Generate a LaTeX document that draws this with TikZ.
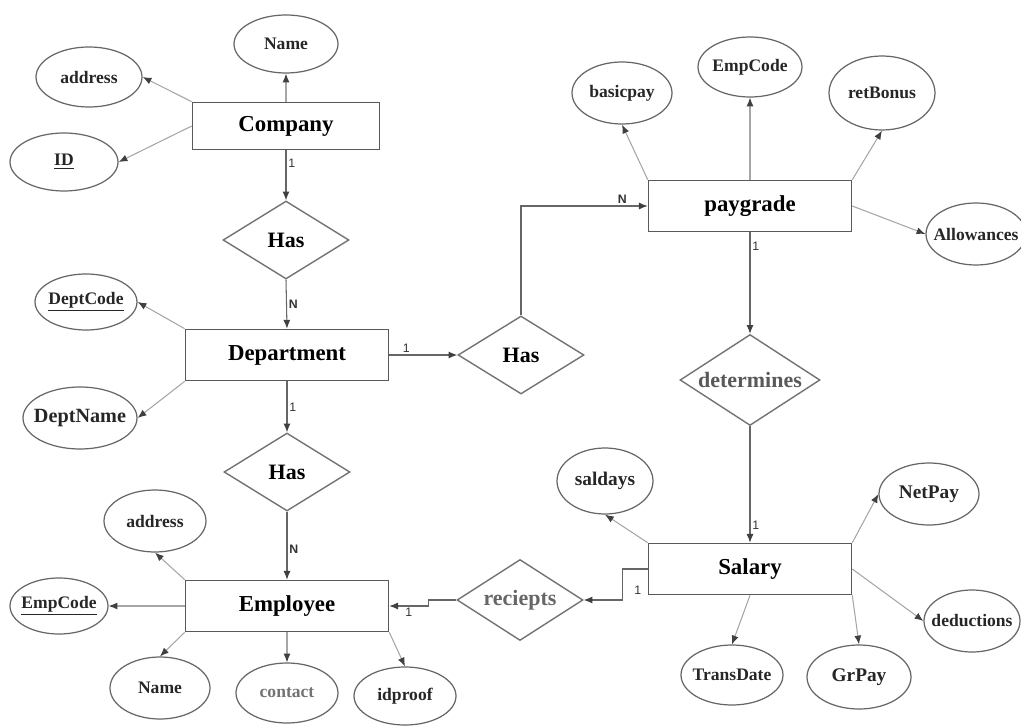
\documentclass[tikz,border=0pt]{standalone}
\usepackage{fontspec}
\setmainfont{Liberation Serif}
\newfontfamily\cardfont{Liberation Sans}
\usetikzlibrary{shapes.geometric,arrows.meta}
\newcommand{\attrtext}[1]{\makebox[0pt]{#1}}

\begin{document}
\begin{tikzpicture}[x=0.02cm,y=-0.02cm,
    entity/.style={draw=black!65,line width=0.9pt,fill=white,minimum width=4.06cm,minimum height=1.02cm,font=\fontsize{13}{15}\selectfont\bfseries},
    rel/.style={diamond,aspect=1.6,draw=black!55,line width=0.8pt,inner sep=0pt,minimum width=2.52cm,minimum height=1.56cm,font=\fontsize{12.5}{14}\selectfont\bfseries},
    attr/.style 2 args={ellipse,draw=black!60,line width=0.7pt,inner sep=0pt,minimum width=#1*0.02cm,minimum height=#2*0.02cm,font=\fontsize{10}{12}\selectfont\bfseries,text=black!85},
    link/.style={draw=black!60,line width=0.6pt,-{Latex[length=5pt,width=4pt,color=black!75]}},
    attrlink/.style={draw=black!35,line width=0.6pt,-{Latex[length=5pt,width=4pt,color=black!75]}},
    card/.style={font=\cardfont\fontsize{7}{8}\selectfont,inner sep=1pt,text=black!80}]
  \useasboundingbox (0,0) rectangle (1021,726);

  % entities
  \node[entity,minimum width=3.74cm,minimum height=0.94cm] (company) at (286,126) {Company};
  \node[entity] (dept) at (287,355) {Department};
  \node[entity] (emp) at (287,606) {Employee};
  \node[entity] (pay) at (750,206) {paygrade};
  \node[entity] (sal) at (750,569) {Salary};

  % relationships
  \node[rel] (has1) at (286,240) {Has};
  \node[rel] (has2) at (521,355) {Has};
  \node[rel] (has3) at (287,472) {Has};
  \node[rel,minimum width=2.8cm,minimum height=1.82cm,text=black!65] (det) at (750,380) {determines};
  \node[rel,minimum height=1.62cm,text=black!60] (rcpt) at (520,600) {reciepts};

  % attributes of Company
  \node[attr={104}{58}] (cname) at (286,44) {\attrtext{Name}};
  \node[attr={106}{60}] (caddr) at (89,77) {\attrtext{address}};
  \node[attr={108}{58}] (cid) at (64,162) {\attrtext{\underline{ID}}};
  % attributes of Department
  \node[attr={102}{56}] (dcode) at (86,302) {\attrtext{\underline{DeptCode}}};
  \node[attr={114}{62},font=\fontsize{11.5}{13}\selectfont\bfseries] (dname) at (80,418) {\attrtext{DeptName}};
  % attributes of paygrade
  \node[attr={100}{62}] (bpay) at (622,93) {\attrtext{basicpay}};
  \node[attr={104}{60}] (pcode) at (750,67) {\attrtext{EmpCode}};
  \node[attr={106}{74}] (rbonus) at (882,93) {\attrtext{retBonus}};
  \node[attr={100}{62}] (allow) at (976,234) {\attrtext{Allowances}};
  % attributes of Salary
  \node[attr={96}{66},font=\fontsize{11}{13}\selectfont\bfseries] (sdays) at (605,481) {\attrtext{saldays}};
  \node[attr={100}{62},font=\fontsize{11}{13}\selectfont\bfseries] (npay) at (929,494) {\attrtext{NetPay}};
  \node[attr={96}{62}] (deduc) at (972,621) {\attrtext{deductions}};
  \node[attr={104}{64},font=\fontsize{11}{13}\selectfont\bfseries] (grpay) at (859,677) {\attrtext{GrPay}};
  \node[attr={102}{60}] (tdate) at (732,675) {\attrtext{TransDate}};
  % attributes of Employee
  \node[attr={102}{62}] (eaddr) at (155,521) {\attrtext{address}};
  \node[attr={98}{56}] (ecode) at (59,606) {\attrtext{\underline{EmpCode}}};
  \node[attr={100}{62}] (ename) at (160,688) {\attrtext{Name}};
  \node[attr={102}{60},text=black!55] (econt) at (287,693) {\attrtext{contact}};
  \node[attr={102}{58}] (eproof) at (405,696) {\attrtext{idproof}};

  % relationship links
  \draw[link] (company.south) -- (has1.north) node[card,right,pos=0.25]{1};
  \draw[link] (has1.south) -- (dept.north) node[card,right,pos=0.5]{\textbf{N}};
  \draw[link] (dept.east) -- (has2.west) node[card,above,pos=0.25]{1};
  \draw[link] (dept.south) -- (has3.north) node[card,right,pos=0.5]{1};
  \draw[link] (has3.south) -- (emp.north) node[card,right,pos=0.55]{\textbf{N}};
  \draw[link] (has2.north) |- (pay.west) node[card,above,pos=0.9]{\textbf{N}};
  \draw[link] (pay.south) -- (det.north) node[card,right,pos=0.14]{1};
  \draw[link] (det.south) -- (sal.north) node[card,right,pos=0.85]{1};
  \draw[link] (sal.west) -- node[card,below=0.3cm,pos=0.4]{1} ++(-25,0) |- (rcpt.east);
  \draw[link] (rcpt.west) -- ++(-28,0) |- (emp.east) node[card,below,pos=0.75]{1};

  % attribute links
  \draw[attrlink] (company.north) -- (cname.south);
  \draw[attrlink] (company.north west) -- (caddr.east);
  \draw[attrlink] (company.west) -- (cid.east);
  \draw[attrlink] (dept.north west) -- (dcode.east);
  \draw[attrlink] (dept.south west) -- (dname.east);
  \draw[attrlink] (pay.north west) -- (bpay.south);
  \draw[attrlink] (pay.north) -- (pcode.south);
  \draw[attrlink] (pay.north east) -- (rbonus.south);
  \draw[attrlink] (pay.east) -- (allow.west);
  \draw[attrlink] (sal.north west) -- (sdays.south);
  \draw[attrlink] (sal.north east) -- (npay.west);
  \draw[attrlink] (sal.east) -- (deduc.west);
  \draw[attrlink] (sal.south) -- (tdate.north);
  \draw[attrlink] (sal.south east) -- (grpay.north);
  \draw[attrlink] (emp.north west) -- (eaddr.south);
  \draw[attrlink] (emp.west) -- (ecode.east);
  \draw[attrlink] (emp.south west) -- (ename.north);
  \draw[attrlink] (emp.south) -- (econt.north);
  \draw[attrlink] (emp.south east) -- (eproof.north);
\end{tikzpicture}
\end{document}
